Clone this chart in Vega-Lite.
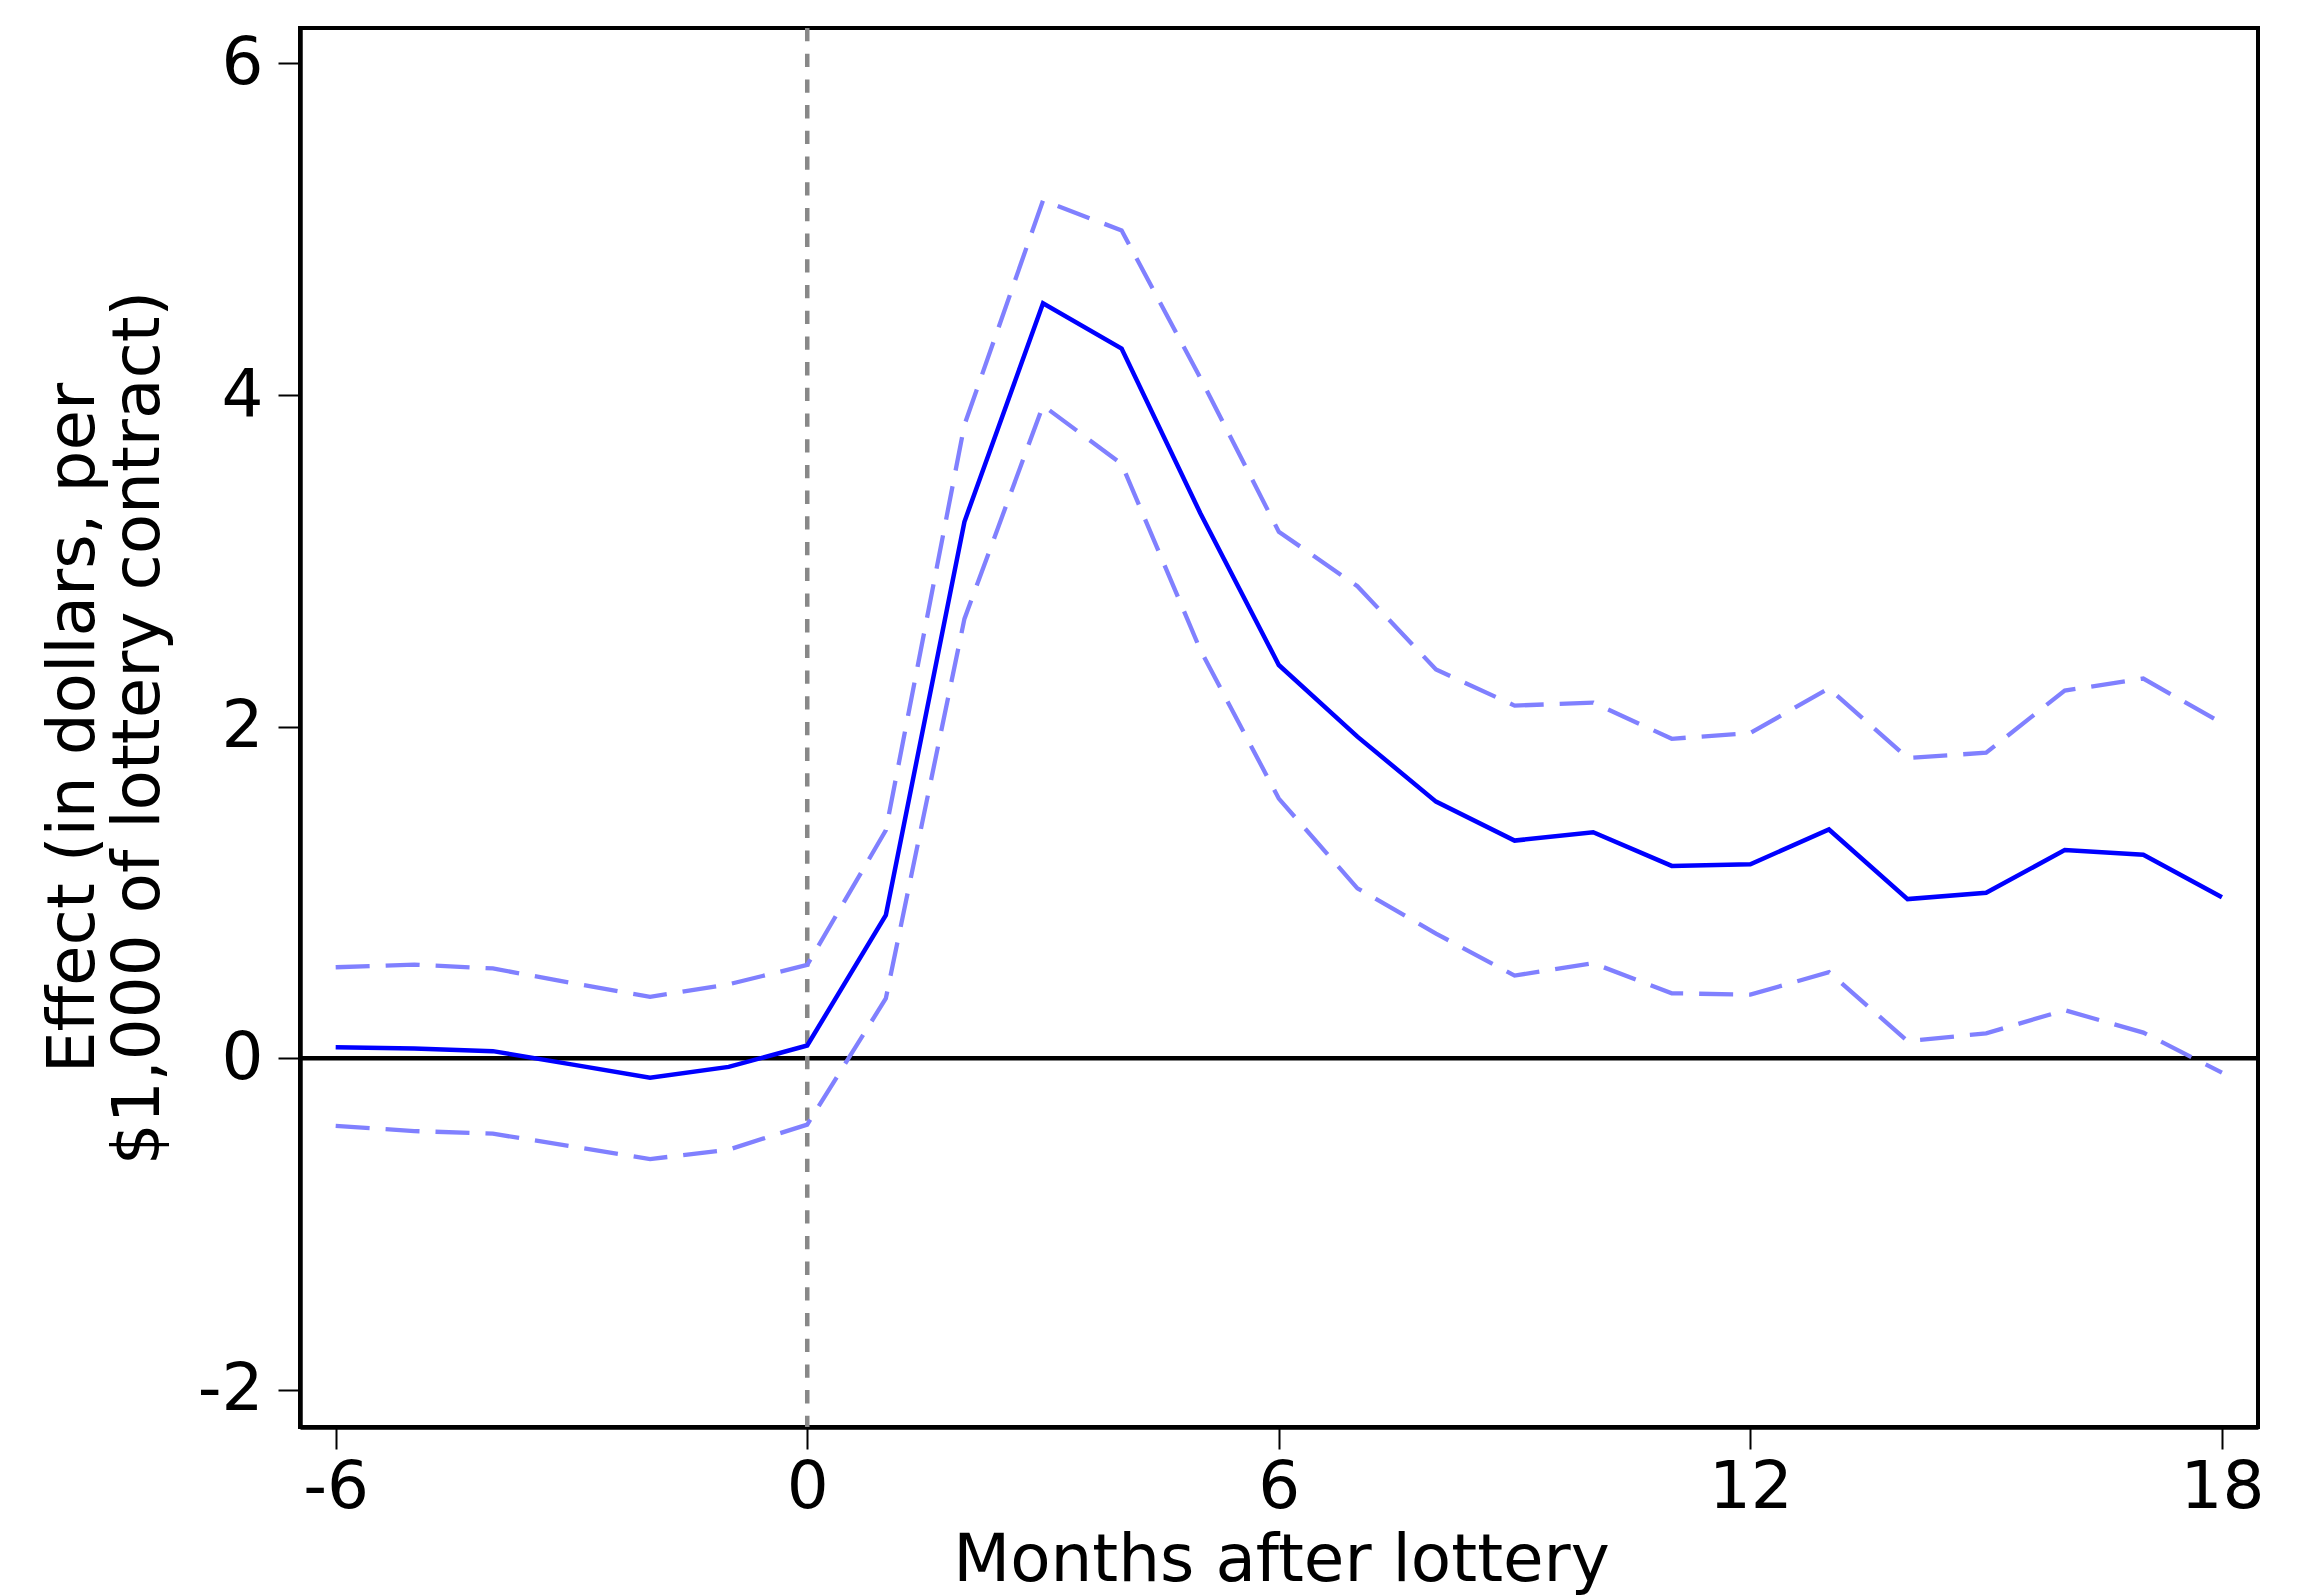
{
  "$schema": "https://vega.github.io/schema/vega-lite/v6.json",
  "autosize": "none",
  "width": 1958,
  "height": 1399,
  "padding": {"left": 300, "top": 28, "right": 63, "bottom": 169},
  "background": "white",
  "config": {
    "font": "DejaVu Sans",
    "view": {"stroke": "black", "strokeWidth": 4},
    "axis": {
      "grid": false,
      "domainColor": "black",
      "domainWidth": 4.5,
      "tickColor": "black",
      "tickWidth": 2,
      "tickSize": 22,
      "labelFont": "DejaVu Sans",
      "labelFontSize": 66,
      "labelColor": "black",
      "labelExpr": "'' + datum.value",
      "titleFont": "DejaVu Sans",
      "titleFontSize": 66,
      "titleFontWeight": "normal",
      "titleColor": "black"
    }
  },
  "data": {
    "values": [
      {"month": -6, "est": 0.066, "hi": 0.549, "lo": -0.408},
      {"month": -5, "est": 0.059, "hi": 0.565, "lo": -0.439},
      {"month": -4, "est": 0.043, "hi": 0.542, "lo": -0.455},
      {"month": -3, "est": -0.037, "hi": 0.454, "lo": -0.531},
      {"month": -2, "est": -0.118, "hi": 0.370, "lo": -0.608},
      {"month": -1, "est": -0.052, "hi": 0.446, "lo": -0.551},
      {"month": 0, "est": 0.077, "hi": 0.563, "lo": -0.400},
      {"month": 1, "est": 0.863, "hi": 1.375, "lo": 0.361},
      {"month": 2, "est": 3.236, "hi": 3.82, "lo": 2.65},
      {"month": 3, "est": 4.554, "hi": 5.174, "lo": 3.937},
      {"month": 4, "est": 4.280, "hi": 4.993, "lo": 3.585},
      {"month": 5, "est": 3.289, "hi": 4.105, "lo": 2.465},
      {"month": 6, "est": 2.372, "hi": 3.176, "lo": 1.566},
      {"month": 7, "est": 1.94, "hi": 2.847, "lo": 1.025},
      {"month": 8, "est": 1.548, "hi": 2.345, "lo": 0.752},
      {"month": 9, "est": 1.313, "hi": 2.127, "lo": 0.499},
      {"month": 10, "est": 1.363, "hi": 2.145, "lo": 0.573},
      {"month": 11, "est": 1.160, "hi": 1.927, "lo": 0.392},
      {"month": 12, "est": 1.170, "hi": 1.962, "lo": 0.384},
      {"month": 13, "est": 1.380, "hi": 2.231, "lo": 0.519},
      {"month": 14, "est": 0.960, "hi": 1.811, "lo": 0.104},
      {"month": 15, "est": 0.998, "hi": 1.843, "lo": 0.150},
      {"month": 16, "est": 1.256, "hi": 2.218, "lo": 0.290},
      {"month": 17, "est": 1.227, "hi": 2.290, "lo": 0.155},
      {"month": 18, "est": 0.971, "hi": 2.021, "lo": -0.087}
    ]
  },
  "layer": [
    {
      "data": {"values": [{"zero": 0}]},
      "mark": {"type": "rule", "color": "black", "strokeWidth": 4.5},
      "encoding": {"y": {"field": "zero", "type": "quantitative", "scale": {"domain": [-2.224, 6.214], "nice": false, "zero": false}}}
    },
    {
      "data": {"values": [{"zero": 0}]},
      "mark": {"type": "rule", "color": "#888888", "strokeWidth": 4.5, "strokeDash": [13.3, 12.4]},
      "encoding": {"x": {"field": "zero", "type": "quantitative", "scale": {"domain": [-6.454, 18.459], "nice": false, "zero": false}}}
    },
    {
      "mark": {"type": "line", "color": "#8080ff", "strokeWidth": 4.3, "strokeDash": [34, 16]},
      "encoding": {
        "x": {"field": "month", "type": "quantitative"},
        "y": {"field": "hi", "type": "quantitative"}
      }
    },
    {
      "mark": {"type": "line", "color": "#8080ff", "strokeWidth": 4.3, "strokeDash": [34, 16]},
      "encoding": {
        "x": {"field": "month", "type": "quantitative"},
        "y": {"field": "lo", "type": "quantitative"}
      }
    },
    {
      "mark": {"type": "line", "color": "#0000ff", "strokeWidth": 4.5},
      "encoding": {
        "x": {
          "field": "month", "type": "quantitative",
          "scale": {"domain": [-6.454, 18.459], "nice": false, "zero": false},
          "axis": {
            "values": [-6, 0, 6, 12, 18],
            "title": "Months after lottery",
            "labelPadding": 6,
            "titleX": 981,
            "titleY": 153,
            "titleBaseline": "alphabetic",
            "titleAlign": "center"
          }
        },
        "y": {
          "field": "est", "type": "quantitative",
          "scale": {"domain": [-2.224, 6.214], "nice": false, "zero": false},
          "axis": {
            "values": [-2, 0, 2, 4, 6],
            "title": ["Effect (in dollars, per", "$1,000 of lottery contract)"],
            "labelPadding": 15,
            "titleX": -207,
            "titleY": 699.5,
            "titleAngle": 270,
            "titleBaseline": "alphabetic",
            "titleAlign": "center",
            "titleLineHeight": 65
          }
        }
      }
    }
  ]
}
